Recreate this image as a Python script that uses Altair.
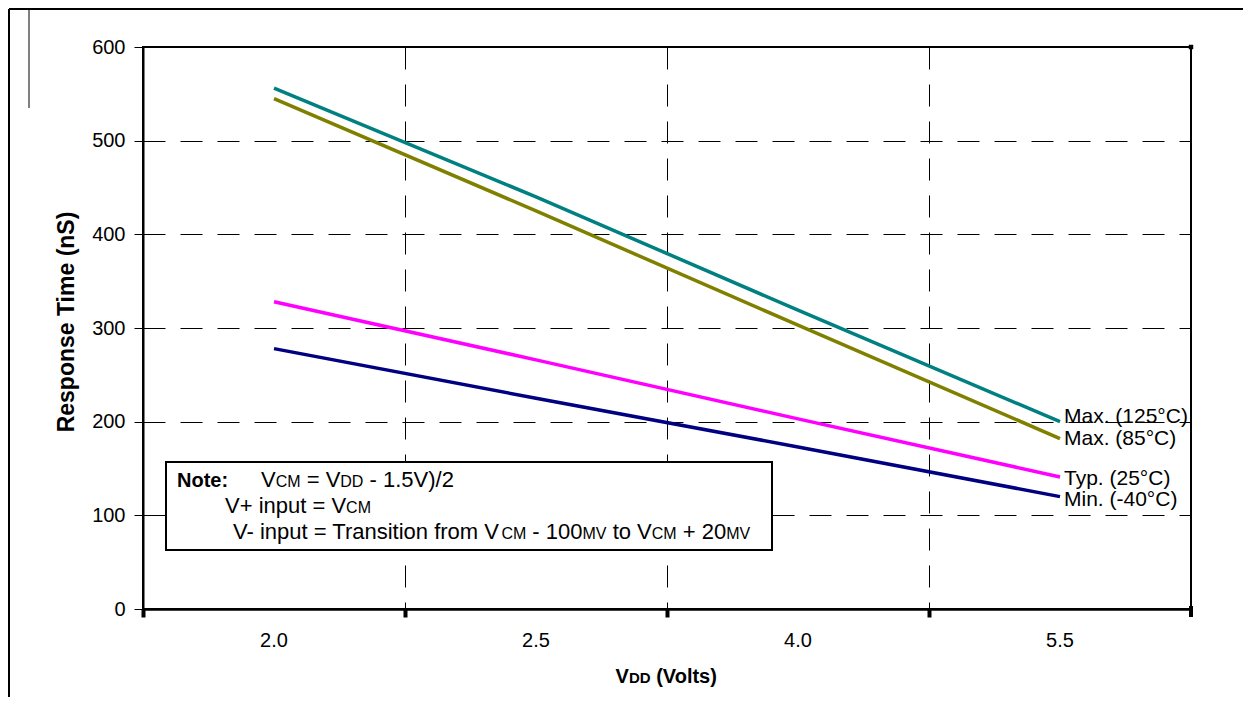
import altair as alt
import pandas as pd

# ---------------- data ----------------
vdd = ["2.0", "2.5", "4.0", "5.5"]
max125 = [556, 440, 319, 200]
max85 = [545, 425, 303, 182]
typ25 = [328, 266, 203, 141]
min40 = [278, 225, 173, 120]
series = ["Max. (125°C)", "Max. (85°C)", "Typ. (25°C)", "Min. (-40°C)"]
colors = ["#008080", "#808000", "#FF00FF", "#000080"]
label_dy = [-5, 0, 2, 3]
y_ticks = [0, 100, 200, 300, 400, 500, 600]

rows = []
for name, vals in zip(series, [max125, max85, typ25, min40]):
    for v, val in zip(vdd, vals):
        rows.append({"vdd": v, "value": val, "series": name})
df = pd.DataFrame(rows)

W, H = 1048, 562
FONT = "Liberation Sans"
one = alt.Data(values=[{"a": 1}])

# Arial / Liberation Sans advance widths (1/1000 em)
REG = {' ': 278, '-': 333, '.': 278, '/': 278, ':': 278, '=': 584, '+': 584, '(': 333, ')': 333,
       'C': 722, 'D': 722, 'M': 833, 'N': 722, 'T': 611, 'V': 667,
       'a': 556, 'e': 556, 'f': 278, 'i': 222, 'l': 222, 'm': 833, 'n': 556, 'o': 556, 'p': 556,
       'r': 333, 's': 500, 't': 278, 'u': 556}
BOLD = {' ': 278, ':': 333, '(': 333, ')': 333, 'V': 667, 'D': 722, 'N': 722,
        'o': 611, 't': 333, 'e': 556, 'l': 278, 's': 556}


def twidth(t, size, bold):
    tab = BOLD if bold else REG
    return sum(tab.get(c, 556) for c in t) * size / 1000.0


def seg_layers(parts, x0, y, anchor="left"):
    widths = [twidth(t, s, b) for t, s, b in parts]
    x = x0 - sum(widths) / 2 if anchor == "center" else x0
    out = []
    for (t, s, b), w in zip(parts, widths):
        lead = len(t) - len(t.lstrip())
        xd = x + twidth(t[:lead], s, b)
        out.append(
            alt.Chart(one).mark_text(
                text=t.strip(), align="left", baseline="alphabetic", fontSize=s,
                fontWeight="bold" if b else "normal", font=FONT, color="black"
            ).encode(x=alt.value(xd), y=alt.value(y))
        )
        x += w
    return out


# ---------------- encodings ----------------
xenc = alt.X(
    "vdd:N", sort=vdd, bandPosition=0.5,
    scale=alt.Scale(type="band", domain=vdd, paddingInner=0, paddingOuter=0),
    axis=alt.Axis(title=None, bandPosition=0, labelOffset=0, ticks=True, tickSize=8,
                  tickWidth=4, tickColor="black", grid=True, gridDash=[22, 15],
                  gridColor="black", gridWidth=1, gridOpacity=1, domainColor="black",
                  domainWidth=2.5, labelFontSize=20, labelFont=FONT, labelColor="black",
                  labelPadding=13, labelAngle=0),
)
yenc = alt.Y(
    "value:Q", scale=alt.Scale(domain=[0, 600], nice=False, zero=True),
    axis=alt.Axis(title=None, values=y_ticks, tickSize=9, tickWidth=1, tickColor="black",
                  labelPadding=9, grid=True, gridDash=[22, 15], gridColor="black",
                  gridWidth=1, gridOpacity=1, domainColor="black", domainWidth=2,
                  labelFontSize=20, labelFont=FONT, labelColor="black"),
)

lines = alt.Chart(df).mark_line(strokeWidth=3.5).encode(
    x=xenc, y=yenc,
    color=alt.Color("series:N", scale=alt.Scale(domain=series, range=colors), legend=None),
    detail="series:N",
)

labels = []
for name, dy in zip(series, label_dy):
    labels.append(
        alt.Chart(df).transform_filter(
            (alt.datum.series == name) & (alt.datum.vdd == vdd[-1])
        ).mark_text(align="left", baseline="middle", dx=4, dy=dy, fontSize=21, font=FONT,
                    color="black").encode(x=xenc, y=yenc, text="series:N")
    )

# note box
box = alt.Chart(one).mark_rect(fill="white", stroke="black", strokeWidth=2).encode(
    x=alt.value(23), x2=alt.value(629), y=alt.value(415), y2=alt.value(503)
)
S, SS = 22, 16
note = []
note += seg_layers([("Note:", 20, True)], 34, 440)
note += seg_layers([("V", S, False), ("CM", SS, False), (" = V", S, False), ("DD", SS, False),
                    (" - 1.5V)/2", S, False)], 118, 440)
note += seg_layers([("V+ input = V", S, False), ("CM", SS, False)], 82, 466)
note += seg_layers([("V- input = Transition from V", S, False), ("CM", SS, False),
                    (" - 100", S, False), ("MV", SS, False), (" to V", S, False),
                    ("CM", SS, False), (" + 20", S, False), ("MV", SS, False)], 90, 492)

# axis titles
xtitle = seg_layers([("V", 20, True), ("DD", 15, True), (" (Volts)", 20, True)], W / 2, 636,
                    anchor="center")
ytitle = alt.Chart(one).mark_text(
    text="Response Time (nS)", angle=270, align="center", baseline="middle", fontSize=23,
    fontWeight="bold", font=FONT, color="black"
).encode(x=alt.value(-76), y=alt.value(H / 2 - 6))

# decorations: outer frame, last x tick, corner square
frame_left = alt.Chart(one).mark_rule(color="black", strokeWidth=2).encode(
    x=alt.value(-134), y=alt.value(-38), y2=alt.value(660))
frame_top = alt.Chart(one).mark_rule(color="black", strokeWidth=2).encode(
    x=alt.value(-134), x2=alt.value(1110), y=alt.value(-38))
stub = alt.Chart(one).mark_rule(color="black", strokeWidth=1).encode(
    x=alt.value(-114), y=alt.value(-38), y2=alt.value(61))
last_tick = alt.Chart(one).mark_rule(color="black", strokeWidth=4).encode(
    x=alt.value(W), y=alt.value(H - 3), y2=alt.value(H + 8))
corner = alt.Chart(one).mark_square(color="black", filled=True, size=20, opacity=1).encode(
    x=alt.value(W), y=alt.value(0))

chart = alt.layer(
    lines, *labels, box, *note, *xtitle, ytitle, frame_left, frame_top, stub, last_tick, corner
).properties(
    width=W, height=H,
    autosize=alt.AutoSizeParams(type="none"),
    padding={"left": 135, "top": 39, "right": 52, "bottom": 88},
).configure(
    font=FONT, view=alt.ViewConfig(stroke="black", strokeWidth=2)
)

chart.save("out.html", embed_options={"renderer": "svg", "actions": False})
